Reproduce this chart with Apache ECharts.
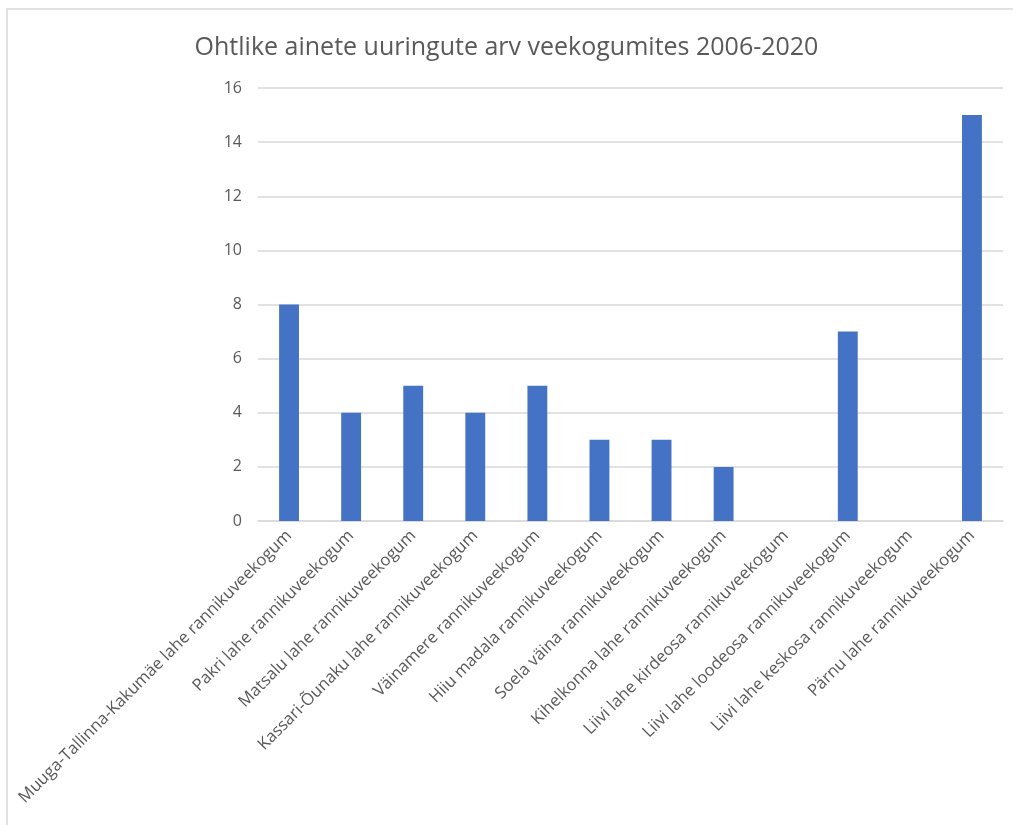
<!DOCTYPE html>
<html>
<head>
<meta charset="utf-8">
<script src="https://cdn.jsdelivr.net/npm/echarts@6/dist/echarts.min.js"></script>
<style>
  html, body { margin: 0; padding: 0; background: #ffffff; }
  #chart { width: 1013px; height: 825px; }
</style>
</head>
<body>
<div id="chart"></div>
<script>
// Water bodies (coastal water bodies) studied for hazardous substances
const categories = [
  'Muuga-Tallinna-Kakumäe lahe rannikuveekogum',
  'Pakri lahe rannikuveekogum',
  'Matsalu lahe rannikuveekogum',
  'Kassari-Õunaku lahe rannikuveekogum',
  'Väinamere rannikuveekogum',
  'Hiiu madala rannikuveekogum',
  'Soela väina rannikuveekogum',
  'Kihelkonna lahe rannikuveekogum',
  'Liivi lahe kirdeosa rannikuveekogum',
  'Liivi lahe loodeosa rannikuveekogum',
  'Liivi lahe keskosa rannikuveekogum',
  'Pärnu lahe rannikuveekogum'
];

// Number of studies per water body, 2006-2020
const studyCounts = [8, 4, 5, 4, 5, 3, 3, 2, 0, 7, 0, 15];

const titleText = 'Ohtlike ainete uuringute arv veekogumites 2006-2020';

const textColor = '#595959';
const gridColor = '#d9d9d9';
const barColor = '#4472c4';
const fontFamily = '"Open Sans", "Noto Sans", "DejaVu Sans", sans-serif';

const chart = echarts.init(document.getElementById('chart'), null, { renderer: 'canvas' });

chart.setOption({
  backgroundColor: '#ffffff',
  animation: false,
  textStyle: { fontFamily: fontFamily },
  graphic: [{
    type: 'rect',
    shape: { x: 7, y: 9, width: 1200, height: 1000 },
    style: { fill: 'none', stroke: gridColor, lineWidth: 1.5 },
    silent: true
  }],
  title: {
    text: titleText,
    left: 'center',
    top: 30,
    textStyle: {
      color: textColor,
      fontSize: 25,
      fontWeight: 'normal',
      fontFamily: fontFamily
    }
  },
  grid: {
    left: 258,
    right: 10,
    top: 88,
    bottom: 304,
    containLabel: false
  },
  xAxis: {
    type: 'category',
    data: categories,
    axisLine: { show: true, lineStyle: { color: gridColor, width: 1.5 } },
    axisTick: { show: false },
    axisLabel: {
      rotate: 45,
      interval: 0,
      margin: 12,
      color: textColor,
      fontSize: 16.6,
      fontFamily: fontFamily
    }
  },
  yAxis: {
    type: 'value',
    min: 0,
    max: 16,
    interval: 2,
    axisLine: { show: false },
    axisTick: { show: false },
    axisLabel: {
      margin: 16,
      color: textColor,
      fontSize: 16,
      fontFamily: fontFamily
    },
    splitLine: { lineStyle: { color: gridColor, width: 1.5 } }
  },
  series: [{
    type: 'bar',
    data: studyCounts,
    barWidth: '32%',
    itemStyle: { color: barColor }
  }]
});
</script>
</body>
</html>
